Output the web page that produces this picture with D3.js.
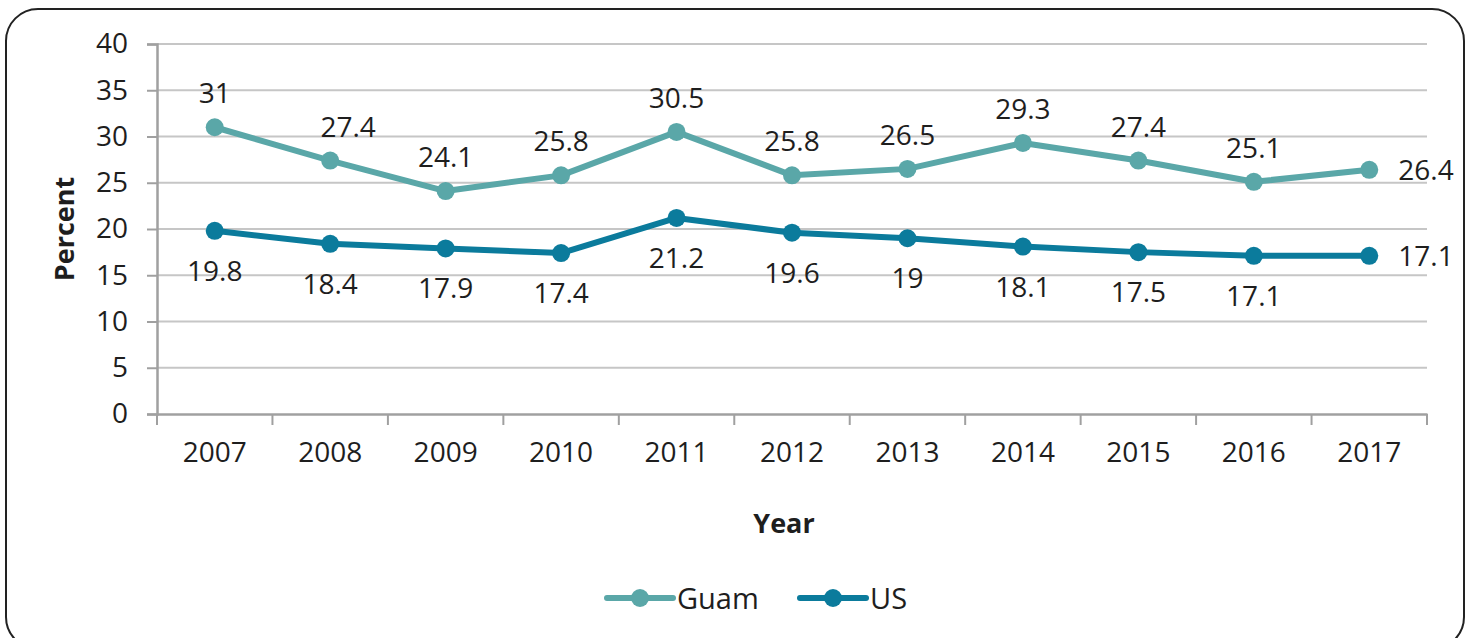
<!DOCTYPE html>
<html><head><meta charset="utf-8">
<script src="https://cdn.jsdelivr.net/npm/d3@7"></script>
<style>
html,body{margin:0;padding:0;background:#fff;}
svg{display:block;font-family:"Open Sans",sans-serif;}
</style></head>
<body><svg id="c" width="1470" height="638"></svg>
<script>
const years = ["2007","2008","2009","2010","2011","2012","2013","2014","2015","2016","2017"];
const guam = [31, 27.4, 24.1, 25.8, 30.5, 25.8, 26.5, 29.3, 27.4, 25.1, 26.4];
const us = [19.8, 18.4, 17.9, 17.4, 21.2, 19.6, 19, 18.1, 17.5, 17.1, 17.1];
const yTicks = [0,5,10,15,20,25,30,35,40];
const seriesNames = ["Guam","US"];
const colors = ["#5aa7a8","#0b7b9c"];
const FS = 28;

const svg = d3.select("#c");
svg.append("rect").attr("x",6).attr("y",9).attr("width",1458).attr("height",640)
  .attr("rx",32).attr("fill","#fff").attr("stroke","#222").attr("stroke-width",2);

const L=157,R=1427,T=44,B=414;
const x = d3.scaleBand().domain(years).range([L,R]);
const y = d3.scaleLinear().domain([0,40]).range([B,T]);

// grid
svg.append("g").selectAll("line").data(yTicks.filter(d=>d>0)).join("line")
  .attr("x1",L).attr("x2",R).attr("y1",d=>y(d)).attr("y2",d=>y(d))
  .attr("stroke","#c6c6c6").attr("stroke-width",2);

// y axis
const ya = svg.append("g").attr("transform",`translate(${L},0)`)
  .call(d3.axisLeft(y).tickValues(yTicks).tickSize(10).tickPadding(19));
ya.select(".domain").attr("stroke","#a0a0a0").attr("stroke-width",2.5);
ya.selectAll(".tick line").attr("stroke","#a0a0a0").attr("stroke-width",2);
ya.selectAll("text").attr("font-size",FS).attr("fill","#1e1e1e").attr("font-family","Open Sans");

// x axis
const xa = svg.append("g").attr("transform",`translate(0,${B})`)
  .call(d3.axisBottom(x).tickSize(0).tickPadding(28));
xa.select(".domain").attr("stroke","#a0a0a0").attr("stroke-width",2.5);
xa.selectAll("text").attr("font-size",FS).attr("fill","#1e1e1e").attr("font-family","Open Sans");
const bounds = years.map(d=>x(d)).concat([R]);
svg.append("g").selectAll("line").data(bounds).join("line")
  .attr("x1",d=>d).attr("x2",d=>d).attr("y1",B).attr("y2",B+11)
  .attr("stroke","#a0a0a0").attr("stroke-width",2);

// titles
svg.append("text").attr("x",784).attr("y",533).attr("text-anchor","middle")
  .attr("font-size",27).attr("font-weight","bold").attr("fill","#1e1e1e").text("Year");
svg.append("text").attr("transform","translate(74,229) rotate(-90)").attr("text-anchor","middle")
  .attr("font-size",27).attr("font-weight","bold").attr("fill","#1e1e1e").text("Percent");

const cx = d=>x(d)+x.bandwidth()/2;
const line = d3.line().x((d,i)=>cx(years[i])).y(d=>y(d));
[guam,us].forEach((s,k)=>{
  const g = svg.append("g");
  g.append("path").datum(s).attr("d",line).attr("fill","none")
    .attr("stroke",colors[k]).attr("stroke-width",6).attr("stroke-linejoin","round");
  g.selectAll("circle").data(s).join("circle")
    .attr("cx",(d,i)=>cx(years[i])).attr("cy",d=>y(d)).attr("r",9).attr("fill",colors[k]);
  g.selectAll("text").data(s).join("text")
    .attr("x",(d,i)=> i===s.length-1 ? cx(years[i])+29 : cx(years[i]) + (k===0&&i===1?18:0))
    .attr("y",(d,i)=> i===s.length-1 ? y(d)+10 : (k===0 ? y(d)-24 : y(d)+50))
    .attr("text-anchor",(d,i)=> i===s.length-1 ? "start":"middle")
    .attr("font-size",FS).attr("fill","#1e1e1e").text(d=>d);
});

// legend
const leg = [{x:607,tx:677},{x:800,tx:870}];
seriesNames.forEach((n,k)=>{
  const g = svg.append("g");
  g.append("line").attr("x1",leg[k].x).attr("x2",leg[k].x+66).attr("y1",598).attr("y2",598)
    .attr("stroke",colors[k]).attr("stroke-width",6).attr("stroke-linecap","round");
  g.append("circle").attr("cx",leg[k].x+33).attr("cy",598).attr("r",9).attr("fill",colors[k]);
  g.append("text").attr("x",leg[k].tx).attr("y",609).attr("font-size",29).attr("fill","#1e1e1e").text(n);
});
</script></body></html>
